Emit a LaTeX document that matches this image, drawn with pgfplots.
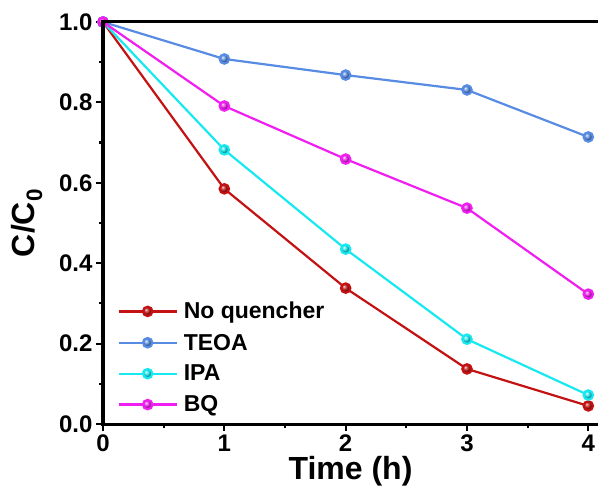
\documentclass[border=0pt]{standalone}
\usepackage{pgfplots}
\pgfplotsset{compat=1.18}
\usepackage{fontspec}
\setmainfont{Liberation Sans}
\usetikzlibrary{calc}
\definecolor{cred}{RGB}{196,18,18}
\definecolor{cblue}{RGB}{88,140,228}
\definecolor{ccyan}{RGB}{24,232,240}
\definecolor{cmag}{RGB}{240,30,240}
\begin{document}
\begin{tikzpicture}
\begin{axis}[name=ax, scale only axis, width=495bp, height=402bp,
  xmin=0, xmax=4.08, ymin=0, ymax=1,
  axis x line*=bottom, axis y line*=left,
  xtick={0,1,2,3,4}, minor x tick num=1,
  ytick={0,0.2,0.4,0.6,0.8,1.0}, minor y tick num=1,
  tick align=outside,
  major tick length=7bp, minor tick length=4bp,
  axis line style={line width=3bp, black},
  every tick/.style={line width=2.2bp, black},
  /pgf/number format/assume math mode=true,
  tick label style={font=\bfseries\fontsize{24bp}{24bp}\selectfont},
  xticklabel style={yshift=0bp},
  yticklabel style={/pgf/number format/.cd, fixed, fixed zerofill, precision=1},
  xlabel={Time (h)}, ylabel={C/C\textsubscript{0}},
  label style={font=\bfseries\fontsize{32bp}{32bp}\selectfont},
  xlabel style={yshift=2bp},
  ylabel style={yshift=10bp},
  legend style={draw=none, fill=none, at={(0.025,0.016)}, anchor=south west,
    font=\bfseries\fontsize{23bp}{23bp}\selectfont, row sep=9.5bp, inner sep=2bp},
  legend cell align=left,
  legend image code/.code={\draw[mark repeat=2,mark phase=2] plot coordinates {(0bp,0bp) (29bp,0bp) (58bp,0bp)};\path (62bp,0bp);},
  every axis plot/.append style={line width=2.2bp},
]
\addplot[cred, mark=ball, mark size=4.7bp, mark options={ball color=cred}] coordinates {(0,1.0) (1,0.585) (2,0.338) (3,0.137) (4,0.045)};
\addlegendentry{No quencher}
\addplot[cblue, mark=ball, mark size=4.7bp, mark options={ball color=cblue}] coordinates {(0,1.0) (1,0.908) (2,0.868) (3,0.831) (4,0.714)};
\addlegendentry{TEOA}
\addplot[ccyan, mark=ball, mark size=4.7bp, mark options={ball color=ccyan}] coordinates {(0,1.0) (1,0.682) (2,0.435) (3,0.211) (4,0.072)};
\addlegendentry{IPA}
\addplot[cmag, mark=ball, mark size=4.7bp, mark options={ball color=cmag}] coordinates {(0,1.0) (1,0.791) (2,0.659) (3,0.537) (4,0.323)};
\addlegendentry{BQ}
\end{axis}
\draw[line width=3bp, line cap=rect] (ax.south west) -- (ax.north west) -- ($(ax.north east)+(2bp,0)$);
\pgfresetboundingbox
\path ($(ax.south west)+(-103bp,-71bp)$) rectangle ($(ax.north east)+(0bp,22bp)$);
\end{tikzpicture}
\end{document}
